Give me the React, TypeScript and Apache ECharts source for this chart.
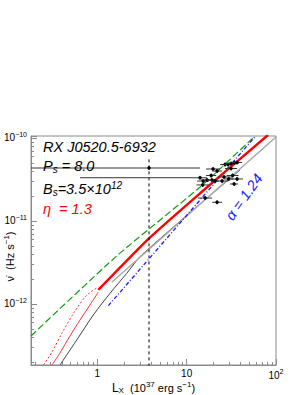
import React, { useEffect, useRef } from 'react';
import * as echarts from 'echarts';

// Axis ranges (L_X in 1e37 erg/s, nu-dot in Hz/s)
const xRange = [0.181, 100];
const yRange = [1.84e-13, 1.057e-10];

// Model curves: [L_X, nuDot]
const greenModel = [[0.181, 4.12e-13], [1.649, 3.79e-12], [14.13, 2.57e-11], [58.3, 1.057e-10]];
const redThick = [[1.026, 1.476e-12], [3.892, 6.33e-12], [14.13, 2.157e-11], [81.5, 1.087e-10]];
const redDotted = [[0.2497, 1.84e-13], [0.311, 2.64e-13], [0.4024, 4.47e-13], [0.5626, 8.24e-13], [0.767, 1.283e-12], [1.026, 1.602e-12]];
const redThin = [[0.311, 1.84e-13], [0.382, 2.57e-13], [0.4945, 4.12e-13], [0.64, 6.41e-13], [0.828, 9.73e-13], [1.026, 1.395e-12]];
const blackThin = [[0.382, 1.84e-13], [0.588, 3.68e-13], [0.902, 7.37e-13], [1.388, 1.345e-12], [2.134, 2.34e-12], [3.14, 3.89e-12], [39.6, 4.12e-11]];
const grayLine = [[1.461, 1.84e-12], [100, 1.028e-10]];
const blueFit = [[1.328, 9.54e-13], [59.1, 1.057e-10]];
const dashedMarker = [[3.79, 1.5e-13], [3.79, 5.9e-11]];

// Observations: [L, L_lo, L_hi, nuDot, nuDot_lo, nuDot_hi]
const pulsarObs = [
  [3.79, 0.1, 14.1, 4.35e-11, 4.12e-11, 4.6e-11],
  [19.75, 16.5, 23.7, 4.23e-11, 4.0e-11, 4.47e-11],
  [21.9, 19.3, 24.9, 4.0e-11, 3.78e-11, 4.23e-11],
  [26.9, 23.7, 30.6, 4.79e-11, 4.53e-11, 5.06e-11],
  [29.1, 26.2, 32.3, 4.79e-11, 4.53e-11, 5.06e-11],
  [31.4, 28.3, 34.9, 4.93e-11, 4.66e-11, 5.21e-11],
  [34.0, 29.9, 38.6, 5.0e-11, 4.73e-11, 5.29e-11],
  [36.7, 32.3, 41.7, 5.07e-11, 4.8e-11, 5.36e-11],
  [31.4, 26.9, 36.7, 4.29e-11, 4.06e-11, 4.53e-11],
  [14.1, 0.64, 16.9, 3.32e-11, 3.14e-11, 3.51e-11],
  [15.3, 13.1, 17.8, 3.03e-11, 2.87e-11, 3.2e-11],
  [16.9, 14.5, 19.7, 3.12e-11, 2.95e-11, 3.3e-11],
  [18.8, 16.5, 21.4, 3.53e-11, 3.34e-11, 3.73e-11],
  [19.2, 16.9, 21.8, 3.12e-11, 2.95e-11, 3.3e-11],
  [20.8, 18.8, 23.1, 3.03e-11, 2.87e-11, 3.2e-11],
  [24.9, 21.3, 29.1, 3.03e-11, 2.87e-11, 3.2e-11],
  [26.2, 22.5, 30.6, 3.39e-11, 3.2e-11, 3.58e-11],
  [29.5, 25.9, 33.5, 3.21e-11, 3.04e-11, 3.4e-11],
  [32.7, 28.0, 38.1, 3.53e-11, 3.34e-11, 3.73e-11],
  [36.7, 31.4, 42.8, 3.21e-11, 3.04e-11, 3.4e-11],
  [15.1, 12.9, 17.6, 2.72e-11, 2.57e-11, 2.88e-11],
  [34.0, 30.6, 37.7, 2.79e-11, 2.64e-11, 2.95e-11],
  [16.1, 13.4, 19.3, 1.89e-11, 1.79e-11, 2.0e-11],
  [21.9, 19.3, 24.9, 1.68e-11, 1.59e-11, 1.78e-11],
];

const FONT = '"Liberation Sans", Arial, Helvetica, sans-serif';

const powLabel = (v: number, plainSmall: boolean) => {
  const e = Math.log10(v);
  const r = Math.round(e);
  if (Math.abs(e - r) > 1e-6) return '';
  if (plainSmall && r === 0) return '{b|1}';
  if (plainSmall && r === 1) return '{b|10}';
  return '{b|10}{s|' + (r < 0 ? '\u2212' + -r : String(r)) + '}';
};

const labelRich = {
  b: { fontSize: 10, fontFamily: FONT, color: '#000' },
  s: { fontSize: 7, fontFamily: FONT, color: '#000', padding: [0, 0, 7, 0] },
};

const renderErr = (params: any, api: any) => {
  const L = api.value(0), lo = api.value(1), hi = api.value(2);
  const nu = api.value(3), nlo = api.value(4), nhi = api.value(5);
  const c = api.coord([L, nu]);
  const a = api.coord([lo, nu]);
  const b = api.coord([hi, nu]);
  const d = api.coord([L, nlo]);
  const e = api.coord([L, nhi]);
  const st = { stroke: '#333', lineWidth: 1 };
  return {
    type: 'group',
    children: [
      { type: 'line', shape: { x1: a[0], y1: a[1], x2: b[0], y2: b[1] }, style: st },
      { type: 'line', shape: { x1: d[0], y1: d[1], x2: e[0], y2: e[1] }, style: st },
      { type: 'circle', shape: { cx: c[0], cy: c[1], r: 1.7 }, style: { fill: '#000' } },
    ],
  };
};

const lineSeries = (data: number[][], color: string, width: number, type: any, smooth: boolean | number = false) => ({
  type: 'line',
  data,
  showSymbol: false,
  symbol: 'none',
  smooth,
  lineStyle: { color, width, type },
  z: 3,
});

export default function App() {
  const ref = useRef<HTMLDivElement>(null);
  useEffect(() => {
    if (!ref.current) return;
    const chart = echarts.init(ref.current, undefined, { renderer: 'svg' });
    const axisGray = '#8a8a8a';
    chart.setOption({
      animation: false,
      backgroundColor: '#fff',
      grid: {
        left: 31, right: 29, top: 136, bottom: 30,
        containLabel: false, outerBoundsMode: 'none',
        show: true, borderColor: axisGray, borderWidth: 1, backgroundColor: 'transparent',
      },
      xAxis: {
        type: 'log',
        logBase: 10,
        min: xRange[0],
        max: xRange[1],
        axisLine: { show: true, lineStyle: { color: axisGray, width: 1 } },
        axisTick: { show: true, inside: true, length: 6, lineStyle: { color: axisGray } },
        minorTick: { show: true, splitNumber: 9, length: 3, lineStyle: { color: axisGray } },
        splitLine: { show: false },
        minorSplitLine: { show: false },
        axisLabel: { interval: 0, margin: 3, formatter: (v: number) => powLabel(v, true), rich: labelRich },
        name: '{l|L}{sb|X}{n|  (10}{sp|37}{n| erg s}{sp|\u22121}{n|)}',
        nameLocation: 'middle',
        nameGap: 15,
        nameMoveOverlap: false,
        nameTextStyle: {
          verticalAlign: 'top',
          rich: {
            l: { fontSize: 12, fontFamily: FONT, color: '#000' },
            sb: { fontSize: 8, fontFamily: FONT, color: '#000', padding: [6, 0, 0, 0] },
            n: { fontSize: 11, fontFamily: FONT, color: '#000' },
            sp: { fontSize: 8, fontFamily: FONT, color: '#000', padding: [0, 0, 7, 0] },
          },
        },
      },
      yAxis: {
        type: 'log',
        logBase: 10,
        min: yRange[0],
        max: yRange[1],
        axisLine: { show: true, lineStyle: { color: axisGray, width: 1 } },
        axisTick: { show: true, inside: true, length: 6, lineStyle: { color: axisGray } },
        minorTick: { show: true, splitNumber: 9, length: 3, lineStyle: { color: axisGray } },
        splitLine: { show: false },
        minorSplitLine: { show: false },
        axisLabel: { interval: 0, margin: 4, formatter: (v: number) => powLabel(v, false), rich: labelRich },
        name: '{n|\u03bd\u0307  (Hz s}{sp|\u22121}{n|)}',
        nameLocation: 'middle',
        nameGap: 14,
        nameMoveOverlap: false,
        nameTextStyle: {
          padding: [0, 12, 0, 0],
          rich: {
            n: { fontSize: 11, fontFamily: FONT, color: '#000' },
            sp: { fontSize: 8, fontFamily: FONT, color: '#000', padding: [0, 0, 7, 0] },
          },
        },
      },
      series: [
        lineSeries(greenModel, '#12a012', 1.2, [7, 3], 0.2),
        lineSeries(redDotted, '#ff3030', 1, [2, 2], 0.3),
        lineSeries(redThin, '#ff3030', 1, 'solid', 0.3),
        lineSeries(blackThin, '#111', 0.8, 'solid', 0.3),
        lineSeries(grayLine, '#a8a8a8', 1.5, 'solid'),
        lineSeries(blueFit, '#1a1aff', 1.3, [4, 2, 1, 2]),
        lineSeries(redThick, '#ff0000', 2.4, 'solid', 0.2),
        lineSeries(dashedMarker, '#000', 1, [3, 3]),
        {
          type: 'custom',
          renderItem: renderErr,
          data: pulsarObs,
          encode: { x: [0, 1, 2], y: [3, 4, 5] },
          clip: true,
          z: 5,
        },
      ],
      graphic: [
        {
          type: 'text', x: 43, y: 147, z: 10,
          style: { text: 'RX J0520.5-6932', fontSize: 14.5, fontStyle: 'italic', fontFamily: FONT, fill: '#000', verticalAlign: 'middle', align: 'left' },
        },
        {
          type: 'text', x: 43, y: 166, z: 10,
          style: {
            text: '{a|P}{s|s}{a| = 8.0}', verticalAlign: 'middle', align: 'left',
            rich: {
              a: { fontSize: 14.5, fontStyle: 'italic', fontFamily: FONT, fill: '#000' },
              s: { fontSize: 10, fontStyle: 'italic', fontFamily: FONT, fill: '#000', padding: [7, 0, 0, 0] },
            },
          },
        },
        {
          type: 'text', x: 43, y: 189, z: 10,
          style: {
            text: '{a|B}{s|s}{a|=3.5\u00d710}{p|12}', verticalAlign: 'middle', align: 'left',
            rich: {
              a: { fontSize: 14.5, fontStyle: 'italic', fontFamily: FONT, fill: '#000' },
              s: { fontSize: 10, fontStyle: 'italic', fontFamily: FONT, fill: '#000', padding: [7, 0, 0, 0] },
              p: { fontSize: 10, fontStyle: 'italic', fontFamily: FONT, fill: '#000', padding: [0, 0, 8, 0] },
            },
          },
        },
        {
          type: 'text', x: 43, y: 209, z: 10,
          style: { text: '\u03b7  = 1.3', fontSize: 14.5, fontStyle: 'italic', fontFamily: FONT, fill: '#ff0000', verticalAlign: 'middle', align: 'left' },
        },
        {
          type: 'text', x: 244, y: 197, rotation: 0.95, z: 10,
          style: { text: '\u03b1 = 1.24', fontSize: 14.5, fontStyle: 'italic', fontFamily: FONT, fill: '#1a1aff', verticalAlign: 'middle', align: 'center' },
        },
      ],
    });
    return () => chart.dispose();
  }, []);
  return <div ref={ref} style={{ position: 'fixed', left: 0, top: 0, width: 305, height: 395, background: '#fff' }} />;
}
